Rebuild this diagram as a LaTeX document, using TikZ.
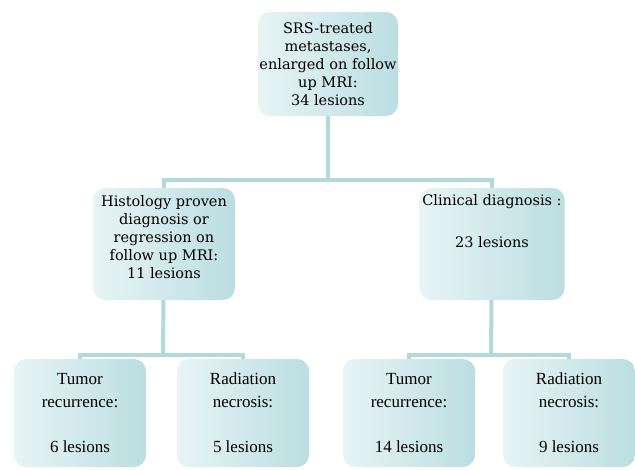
\documentclass[tikz,border=0pt]{standalone}
\usepackage{fontspec}
\setmainfont{DejaVu Serif}
\newfontfamily\leaffont{Liberation Serif}
\usetikzlibrary{positioning}
\definecolor{boxlight}{HTML}{E8F4F5}
\definecolor{boxdark}{HTML}{BBDEE1}
\definecolor{linkcol}{HTML}{B4D9DC}

\begin{document}
\begin{tikzpicture}[x=1pt,y=-1pt,
    box/.style={rounded corners=12pt,left color=boxlight,right color=boxdark,
      align=center,inner sep=0pt,font=\fontsize{14.5}{17.8}\selectfont},
    leaf/.style={box,minimum width=132pt,minimum height=108pt,
      font=\leaffont\fontsize{17}{23}\selectfont},
    link/.style={draw=linkcol,line width=4pt}]
  \useasboundingbox (0,0) rectangle (635,469);

  \node[box,minimum width=140pt,minimum height=104pt] (1) at (328,64)
    {SRS-treated\\metastases,\\enlarged on follow\\up MRI:\\34 lesions};
  \node[box,minimum width=142pt,minimum height=112pt,text depth=14pt] (2) at (164,244)
    {Histology proven\\diagnosis or\\regression on\\follow up MRI:\\11 lesions};
  \node[box,minimum width=145pt,minimum height=112pt,text depth=46pt] (3) at (492,244)
    {Clinical diagnosis :\\[24pt]23 lesions};

  \node[leaf] (4) at (80,413) {Tumor\\recurrence:\\[22pt]6 lesions};
  \node[leaf] (5) at (243,413) {Radiation\\necrosis:\\[22pt]5 lesions};
  \node[leaf] (6) at (409,413) {Tumor\\recurrence:\\[22pt]14 lesions};
  \node[leaf] (7) at (569,413) {Radiation\\necrosis:\\[22pt]9 lesions};

  \coordinate (j1) at (328,180);
  \coordinate (j2) at (163,355);
  \coordinate (j3) at (491,355);

  \draw[link] (1) -- (j1) -| (2);
  \draw[link] (j1) -| (3);
  \draw[link] (2) -- (j2) -| (4);
  \draw[link] (j2) -| (5);
  \draw[link] (3) -- (j3) -| (6);
  \draw[link] (j3) -| (7);
\end{tikzpicture}
\end{document}
